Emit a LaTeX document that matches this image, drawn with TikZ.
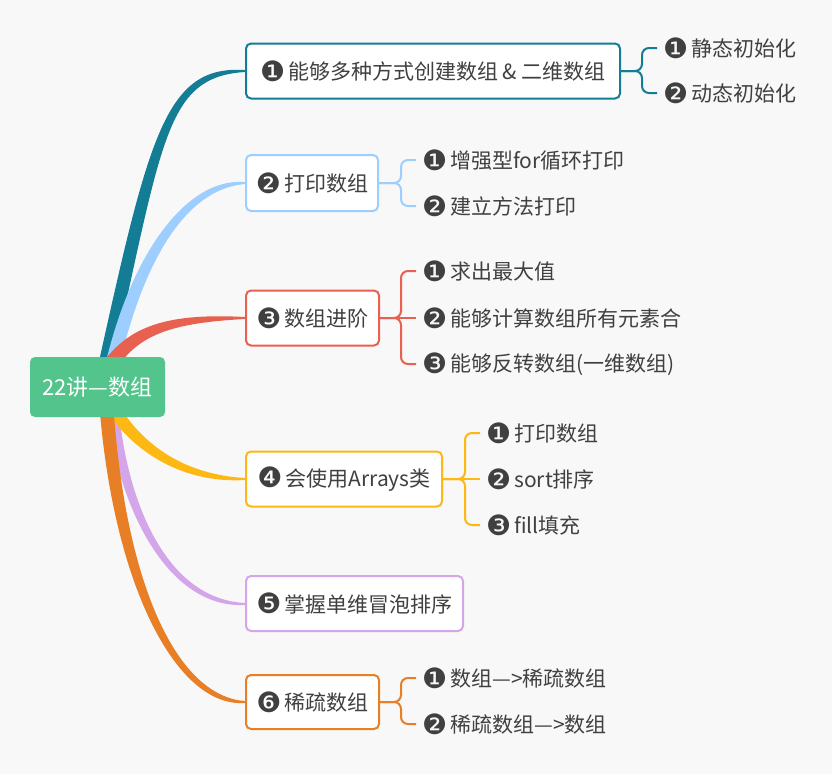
\documentclass[tikz,border=0pt]{standalone}
\usepackage{fontspec}
\setmainfont{Noto Sans CJK SC}
\newfontfamily\djv{DejaVu Sans}
\usetikzlibrary{calc}
\definecolor{bgc}{HTML}{F8F8F8}
\definecolor{txt}{HTML}{404040}
\definecolor{rootc}{HTML}{52C48C}
\definecolor{ca}{HTML}{137D96}
\definecolor{cb}{HTML}{9ECEFF}
\definecolor{cc}{HTML}{E8604F}
\definecolor{cd}{HTML}{FDB813}
\definecolor{ce}{HTML}{D4A5E8}
\definecolor{cf}{HTML}{E87E25}
\newcommand\cnum[1]{\raisebox{-1.5pt}{\djv\fontsize{28pt}{28pt}\selectfont #1}\hspace{3pt}}
\newcommand\mfont{\fontsize{21pt}{24pt}\selectfont}
\tikzset{
  bbox/.style={draw=#1, line width=2pt, rounded corners=5pt, fill=white, anchor=west,
    minimum height=55pt, inner sep=0pt, text=txt, font=\mfont},
  leaf/.style={anchor=west, inner xsep=6pt, inner ysep=0pt, text=txt, font=\mfont},
  link/.style={draw=#1, line width=2pt, rounded corners=7pt},
  rootbox/.style={fill=rootc, rounded corners=5pt, minimum width=135pt, minimum height=60pt,
    inner sep=0pt, text=white, font=\fontsize{22pt}{24pt}\selectfont},
}
\begin{document}
\begin{tikzpicture}[x=1pt,y=-1pt]
\fill[bgc] (0,0) rectangle (832,774);
\useasboundingbox (0,0) rectangle (832,774);

% tapered branches
\fill[ca] (96,375) .. controls (149,135) and (165,65) .. (245,70)
  -- (245,72) .. controls (165,77) and (163,139) .. (110,375) -- cycle;
\fill[cb] (103,375) .. controls (128,258) and (185,177) .. (245,182)
  -- (245,184) .. controls (185,189) and (142,262) .. (117,375) -- cycle;
\fill[cc] (104,361) .. controls (131,325) and (170,313) .. (245,317)
  -- (245,319) .. controls (170,323) and (139,335) .. (116,369) -- cycle;
\fill[ce] (118,400) .. controls (125,499) and (165,599) .. (245,603)
  -- (245,605) .. controls (165,609) and (115,501) .. (106,400) -- cycle;
\fill[cd] (114,397) .. controls (135,436) and (175,474) .. (245,478)
  -- (245,480) .. controls (175,484) and (125,444) .. (102,403) -- cycle;
\fill[cf] (113,400) .. controls (124,579) and (175,696) .. (245,701)
  -- (245,703) .. controls (175,708) and (112,581) .. (99,400) -- cycle;

% root
\node[rootbox] (root) at (97.5,387) {22讲—数组};

% main boxes
\node[bbox=ca, minimum width=374pt] (b1) at (245,71) {\cnum{❶}能够多种方式创建数组 \& 二维数组};
\node[bbox=cb, minimum width=132pt, minimum height=56pt] (b2) at (245,183) {\cnum{❷}打印数组};
\node[bbox=cc, minimum width=133pt] (b3) at (245,318) {\cnum{❸}数组进阶};
\node[bbox=cd, minimum width=196pt] (b4) at (245,479) {\cnum{❹}会使用Arrays类};
\node[bbox=ce, minimum width=217pt] (b5) at (245,603.5) {\cnum{❺}掌握单维冒泡排序};
\node[bbox=cf, minimum width=133pt, minimum height=54pt] (b6) at (245,702) {\cnum{❻}稀疏数组};

% leaves
\node[leaf] (l11) at (657,48) {\cnum{❶}静态初始化};
\node[leaf] (l12) at (657,93) {\cnum{❷}动态初始化};
\node[leaf] (l21) at (416,160) {\cnum{❶}增强型for循环打印};
\node[leaf] (l22) at (416,206) {\cnum{❷}建立方法打印};
\node[leaf] (l31) at (416,271) {\cnum{❶}求出最大值};
\node[leaf] (l32) at (416,318) {\cnum{❷}能够计算数组所有元素合};
\node[leaf] (l33) at (416,364) {\cnum{❸}能够反转数组(一维数组)};
\node[leaf] (l41) at (480,433) {\cnum{❶}打印数组};
\node[leaf] (l42) at (480,479) {\cnum{❷}sort排序};
\node[leaf] (l43) at (480,525) {\cnum{❸}fill填充};
\node[leaf] (l61) at (416,678) {\cnum{❶}数组—>稀疏数组};
\node[leaf] (l62) at (416,724) {\cnum{❷}稀疏数组—>数组};

% brace connectors
\draw[link=ca] (b1.east) -| ([xshift=-15pt]l11.west) -- (l11.west);
\draw[link=ca] (b1.east) -| ([xshift=-15pt]l12.west) -- (l12.west);
\draw[link=cb] (b2.east) -| ([xshift=-15pt]l21.west) -- (l21.west);
\draw[link=cb] (b2.east) -| ([xshift=-15pt]l22.west) -- (l22.west);
\draw[link=cc] (b3.east) -| ([xshift=-15pt]l31.west) -- (l31.west);
\draw[link=cc] (b3.east) -- (l32.west);
\draw[link=cc] (b3.east) -| ([xshift=-15pt]l33.west) -- (l33.west);
\draw[link=cd] (b4.east) -| ([xshift=-15pt]l41.west) -- (l41.west);
\draw[link=cd] (b4.east) -- (l42.west);
\draw[link=cd] (b4.east) -| ([xshift=-15pt]l43.west) -- (l43.west);
\draw[link=cf] (b6.east) -| ([xshift=-15pt]l61.west) -- (l61.west);
\draw[link=cf] (b6.east) -| ([xshift=-15pt]l62.west) -- (l62.west);
\end{tikzpicture}
\end{document}
